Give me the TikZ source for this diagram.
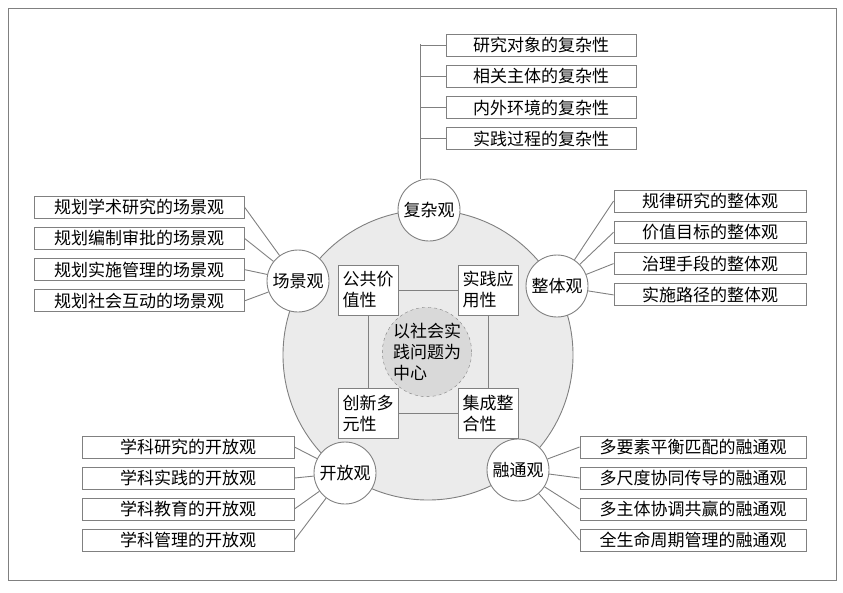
\documentclass[tikz,border=0pt]{standalone}
\usepackage{fontspec}
\setmainfont{Noto Sans CJK SC}
\begin{document}
\begin{tikzpicture}[x=1pt,y=-1pt,
  ln/.style={draw=black!50,line width=0.9pt},
  lbox/.style={ln,fill=white,minimum height=22pt,inner sep=0pt,font=\fontsize{17}{17}\selectfont},
  vw/.style={ln,circle,fill=white,minimum size=62pt,inner sep=0pt,font=\fontsize{17}{17}\selectfont},
  sq/.style={ln,fill=white,minimum width=60pt,minimum height=50pt,inner sep=0pt,align=left,font=\fontsize{17}{21}\selectfont}]
\useasboundingbox (0,0) rectangle (843,592);
\draw[ln] (8,8) rectangle (836,580);
\node[ln,circle,fill=black!8,minimum size=290pt] (big) at (428,355) {};
\node[vw] (fz) at (429,210) {复杂观};
\node[vw] (zt) at (557,286) {整体观};
\node[vw] (cj) at (298,281) {场景观};
\node[vw] (kf) at (345,473) {开放观};
\node[vw] (rt) at (518,470) {融通观};
\node[sq] (a) at (368,290) {公共价\\值性};
\node[sq] (b) at (488,290) {实践应\\用性};
\node[sq] (c) at (368,413) {创新多\\元性};
\node[sq] (d) at (488,413) {集成整\\合性};
\draw[ln] (a) -- (b) -- (d) -- (c) -- (a);
\node[circle,draw=black!50,dashed,fill=black!15,minimum size=76pt,inner sep=0pt,align=left,font=\fontsize{17}{21}\selectfont] (ctr) at (427,352) {以社会实\\践问题为\\中心};
% top
\coordinate (sp) at (420,44);
\draw[ln] (sp) -- (fz.north -| sp);
\foreach \t [count=\i] in {研究对象的复杂性,相关主体的复杂性,内外环境的复杂性,实践过程的复杂性}{
  \node[lbox,minimum width=190pt] (t\i) at (541,{45+31.3*(\i-1)}) {\t};
  \draw[ln] (t\i.west) -- (t\i.west -| sp);}
% left
\foreach \t [count=\i] in {规划学术研究的场景观,规划编制审批的场景观,规划实施管理的场景观,规划社会互动的场景观}{
  \node[lbox,minimum width=210pt] (l\i) at (139,{207+31.3*(\i-1)}) {\t};
  \draw[ln] (l\i.east) -- (cj);}
% right
\foreach \t [count=\i] in {规律研究的整体观,价值目标的整体观,治理手段的整体观,实施路径的整体观}{
  \node[lbox,minimum width=192pt] (r\i) at (710,{201+31.3*(\i-1)}) {\t};
  \draw[ln] (r\i.west) -- (zt);}
% bottom left
\foreach \t [count=\i] in {学科研究的开放观,学科实践的开放观,学科教育的开放观,学科管理的开放观}{
  \node[lbox,minimum width=212pt] (bl\i) at (188,{447+31*(\i-1)}) {\t};
  \draw[ln] (bl\i.east) -- (kf);}
% bottom right
\foreach \t [count=\i] in {多要素平衡匹配的融通观,多尺度协同传导的融通观,多主体协调共赢的融通观,全生命周期管理的融通观}{
  \node[lbox,minimum width=226pt] (br\i) at (693,{447+31*(\i-1)}) {\t};
  \draw[ln] (br\i.west) -- (rt);}
\end{tikzpicture}
\end{document}
